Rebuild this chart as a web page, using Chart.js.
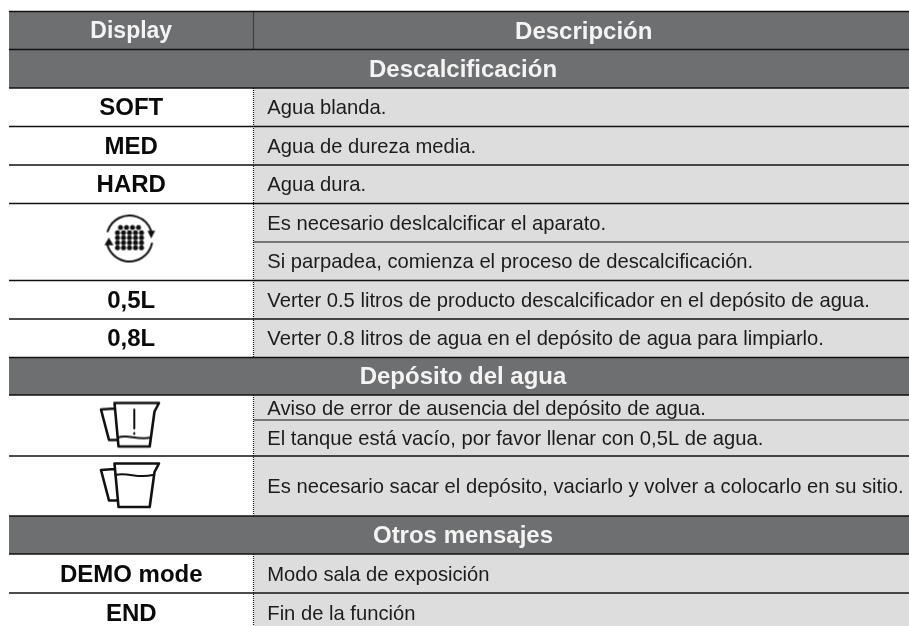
<!DOCTYPE html>
<html>
<head>
<meta charset="utf-8">
<style>
  html, body { margin: 0; padding: 0; background: #fff; }
  canvas { display: block; }
</style>
<script src="https://cdn.jsdelivr.net/npm/chart.js@4"></script>
</head>
<body>
<canvas id="chart" width="909" height="626"></canvas>
<script>
// table geometry, in the units of the x and y scales
const tableLeft = 9
const columnSplit = 253.5
const tableRight = 909
const tableBottom = 626

const darkBandTop = [11.5, 357.5, 516]
const darkBandBottom = [88, 395, 554]
const greyBandTop = [88, 395, 554]
const greyBandBottom = [357.5, 516, 626]

const fullRules = [11.5, 49.5, 88, 126.5, 165, 203.5, 280.5, 319, 357.5, 395, 456, 516, 554, 593]
const rightRules = [242, 420]
const dividerTop = [11.5, 88, 395, 554]
const dividerBottom = [49.5, 357.5, 516, 626]

const headerLabels = ['Display', 'Descripción']
const headerTop = 11.5
const headerBottom = 49.5

const sectionLabels = ['Descalcificación', 'Depósito del agua', 'Otros mensajes']
const sectionTop = [49.5, 357.5, 516]
const sectionBottom = [88, 395, 554]

const displayLabels = ['SOFT', 'MED', 'HARD', '0,5L', '0,8L', 'DEMO mode', 'END']
const displayTop = [88, 126.5, 165, 280.5, 319, 554, 593]
const displayBottom = [126.5, 165, 203.5, 319, 357.5, 593, 632]

const descriptions = [
  'Agua blanda.',
  'Agua de dureza media.',
  'Agua dura.',
  'Es necesario deslcalcificar el aparato.',
  'Si parpadea, comienza el proceso de descalcificación.',
  'Verter 0.5 litros de producto descalcificador en el depósito de agua.',
  'Verter 0.8 litros de agua en el depósito de agua para limpiarlo.',
  'Aviso de error de ausencia del depósito de agua.',
  'El tanque está vacío, por favor llenar con 0,5L de agua.',
  'Es necesario sacar el depósito, vaciarlo y volver a colocarlo en su sitio.',
  'Modo sala de exposición',
  'Fin de la función'
]
const descriptionTop = [88, 126.5, 165, 203.5, 242, 280.5, 319, 395, 420, 456, 554, 593]
const descriptionBottom = [126.5, 165, 203.5, 242, 280.5, 319, 357.5, 420, 456, 516, 593, 632]

const iconX = [129.5, 130, 130]
const iconY = [238.5, 424.5, 485]

const DARK = '#6e6f71'
const GREY = '#dddddd'
const INK = '#111111'

function iconCanvas(w, h, paint) {
  const c = document.createElement('canvas')
  c.width = w
  c.height = h
  const g = c.getContext('2d')
  g.translate(w / 2, h / 2)
  g.strokeStyle = INK
  g.fillStyle = INK
  g.lineJoin = 'round'
  g.lineCap = 'round'
  paint(g)
  return c
}

function jugOutline(g) {
  g.lineWidth = 2.6
  g.beginPath()
  g.moveTo(-15.5, -21.5)
  g.lineTo(29, -21.5)
  g.lineTo(24.5, -13)
  g.lineTo(19.7, 22)
  g.lineTo(-11.5, 22)
  g.lineTo(-15.5, -21.5)
  g.moveTo(-15.5, -16)
  g.lineTo(-29, -15)
  g.lineTo(-21, 15.5)
  g.lineTo(-13, 15.5)
  g.stroke()
}

const warningJug = iconCanvas(66, 52, g => {
  jugOutline(g)
  g.lineWidth = 2
  g.beginPath()
  g.moveTo(-12, 13)
  g.bezierCurveTo(-2, 9, 6, 16, 21, 13)
  g.stroke()
  g.lineWidth = 2
  g.beginPath()
  g.moveTo(4.3, -15)
  g.lineTo(4.3, 4)
  g.moveTo(4.3, 8.5)
  g.lineTo(4.3, 9.5)
  g.stroke()
})

const fullJug = iconCanvas(66, 52, g => {
  jugOutline(g)
  g.lineWidth = 2
  g.beginPath()
  g.moveTo(-14.5, -10)
  g.bezierCurveTo(-2, -13, 8, -6, 22.5, -10)
  g.stroke()
})

const descaleIcon = iconCanvas(60, 56, g => {
  const rows = [[-11, 4], [-5.7, 5], [-0.7, 5], [4.3, 5], [9.3, 5]]
  rows.forEach(([y, n]) => {
    for (let i = 0; i < n; i++) {
      g.beginPath()
      g.arc((i - (n - 1) / 2) * 6, y, 2.5, 0, Math.PI * 2)
      g.fill()
    }
  })
  g.lineWidth = 2
  g.beginPath()
  g.arc(0, 0, 23, Math.PI * 1.1, Math.PI * 1.9)
  g.stroke()
  g.beginPath()
  g.arc(0, 0, 23, Math.PI * 0.07, Math.PI * 0.93)
  g.stroke()
  g.beginPath()
  g.moveTo(18, -7.7)
  g.lineTo(25.7, -7.7)
  g.lineTo(21.7, 0)
  g.closePath()
  g.fill()
  g.beginPath()
  g.moveTo(-25, 6.7)
  g.lineTo(-16, 6.7)
  g.lineTo(-20.7, -1)
  g.closePath()
  g.fill()
})

const icons = [descaleIcon, warningJug, fullJug]

function band(left, right, top, bottom, color) {
  return {
    data: [{ x: left, y: top }, { x: right, y: top }],
    showLine: true,
    borderWidth: 0,
    pointRadius: 0,
    backgroundColor: color,
    fill: { value: bottom }
  }
}

function rule(x1, y1, x2, y2, width, dash) {
  return {
    data: [{ x: x1, y: y1 }, { x: x2, y: y2 }],
    showLine: true,
    borderColor: '#111111',
    borderWidth: width,
    borderDash: dash || [],
    pointRadius: 0,
    fill: false
  }
}

const datasets = [
  // first dataset ends up on top
  ...icons.map((icon, i) => ({
    data: [{ x: iconX[i], y: iconY[i] }],
    pointStyle: icon,
    pointRadius: 10,
    showLine: false
  })),
  ...fullRules.map(y => rule(tableLeft, y, tableRight, y, 1.5)),
  ...rightRules.map(y => rule(columnSplit, y, tableRight, y, 1.2)),
  ...dividerTop.map((y, i) => rule(columnSplit, y, columnSplit, dividerBottom[i], 1.2, [1, 1])),
  ...darkBandTop.map((y, i) => band(tableLeft, tableRight, y, darkBandBottom[i], DARK)),
  ...greyBandTop.map((y, i) => band(columnSplit, tableRight, y, greyBandBottom[i], GREY))
]

const tableText = {
  id: 'tableText',
  afterDraw(chart) {
    const { ctx, scales: { x, y } } = chart
    const put = (text, xv, top, bottom, font, color, align) => {
      ctx.font = font
      ctx.fillStyle = color
      ctx.textAlign = align
      ctx.textBaseline = 'middle'
      ctx.fillText(text, x.getPixelForValue(xv), y.getPixelForValue((top + bottom) / 2) + 1.5)
    }
    const bold = 'bold 24px "Liberation Sans"'
    const midLeft = (tableLeft + columnSplit) / 2
    const midRight = (columnSplit + tableRight) / 2 + 2.5
    ctx.save()
    put(headerLabels[0], midLeft, headerTop, headerBottom, 'bold 23px "Liberation Sans"', '#f4f4f4', 'center')
    put(headerLabels[1], midRight, headerTop, headerBottom, bold, '#f4f4f4', 'center')
    sectionLabels.forEach((s, i) => {
      put(s, (tableLeft + tableRight) / 2 + 4, sectionTop[i], sectionBottom[i], bold, '#f4f4f4', 'center')
    })
    displayLabels.forEach((s, i) => {
      put(s, midLeft, displayTop[i], displayBottom[i], bold, '#0a0a0a', 'center')
    })
    descriptions.forEach((s, i) => {
      put(s, columnSplit + 13.8, descriptionTop[i], descriptionBottom[i], '20.2px "Liberation Sans"', '#1c1c1c', 'left')
    })
    ctx.restore()
  }
}

new Chart(document.getElementById('chart'), {
  type: 'scatter',
  data: { datasets },
  options: {
    responsive: false,
    animation: false,
    events: [],
    layout: { padding: 0, autoPadding: false },
    clip: false,
    plugins: { legend: { display: false }, tooltip: { enabled: false }, title: { display: false } },
    scales: {
      x: { type: 'linear', min: 0, max: 909, display: false },
      y: { type: 'linear', min: 0, max: tableBottom, reverse: true, display: false }
    }
  },
  plugins: [tableText]
})
</script>
</body>
</html>
